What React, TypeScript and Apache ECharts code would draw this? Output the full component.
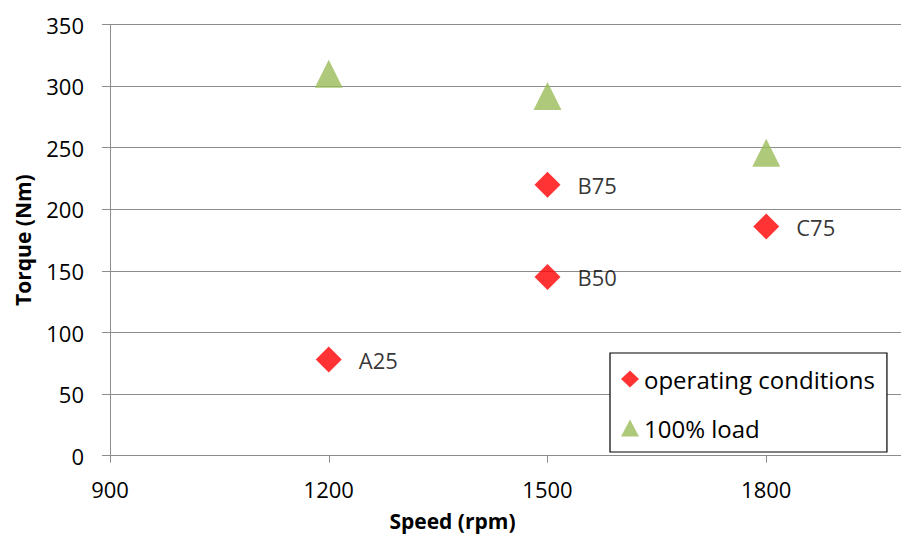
import React, { useEffect, useRef } from "react";
import * as echarts from "echarts";

const opSpeed = [1200, 1500, 1500, 1800];
const opTorque = [78, 145, 220, 186];
const opLabels = ["A25", "B50", "B75", "C75"];

const fullSpeed = [1200, 1500, 1800];
const fullTorque = [310, 292, 246];

const seriesNames = ["operating conditions", "100% load"];
const xTitle = "Speed (rpm)";
const yTitle = "Torque (Nm)";

const FONT = "'Open Sans', 'Noto Sans', sans-serif";
const GRID = "#8c8c8c";

export default function App() {
  const ref = useRef<HTMLDivElement>(null);
  useEffect(() => {
    if (!ref.current) return;
    const chart = echarts.init(ref.current, null, { renderer: "svg" });
    chart.setOption({
      animation: false,
      backgroundColor: "#ffffff",
      textStyle: { fontFamily: FONT },
      grid: {
        left: 110,
        right: 0,
        top: 24.5,
        bottom: 79.3,
        containLabel: false,
        outerBoundsMode: "none",
      },
      xAxis: {
        type: "value",
        min: 900,
        max: 2100,
        interval: 300,
        name: xTitle,
        nameLocation: "middle",
        nameGap: 55,
        nameTextStyle: {
          fontFamily: FONT,
          fontSize: 21,
          fontWeight: "bold",
          color: "#000",
          padding: [0, 190, 0, 0],
        },
        axisLine: { show: true, lineStyle: { color: GRID, width: 1 } },
        axisTick: { show: true, length: 7, lineStyle: { color: GRID } },
        axisLabel: {
          color: "#000",
          fontSize: 22,
          fontFamily: FONT,
          margin: 22,
          showMaxLabel: false,
          formatter: (v: number) => String(v),
        },
        splitLine: { show: false },
      },
      yAxis: {
        type: "value",
        min: 0,
        max: 350,
        interval: 50,
        name: yTitle,
        nameLocation: "middle",
        nameRotate: 90,
        nameGap: 77,
        nameTextStyle: {
          fontFamily: FONT,
          fontSize: 21,
          fontWeight: "bold",
          color: "#000",
        },
        axisLine: { show: true, lineStyle: { color: GRID, width: 1 } },
        axisTick: { show: true, length: 8, lineStyle: { color: GRID } },
        axisLabel: { color: "#000", fontSize: 22, fontFamily: FONT, margin: 26 },
        splitLine: { show: true, lineStyle: { color: GRID, width: 1 } },
      },
      legend: {
        orient: "vertical",
        left: 610,
        top: 353,
        padding: [14, 12, 12, 11],
        itemGap: 25,
        itemWidth: 18,
        itemHeight: 17,
        borderColor: "#000",
        borderWidth: 1.2,
        backgroundColor: "#fff",
        textStyle: { fontSize: 24, fontFamily: FONT, color: "#000" },
        data: [
          { name: seriesNames[0], icon: "diamond" },
          { name: seriesNames[1], icon: "triangle" },
        ],
      },
      series: [
        {
          name: seriesNames[0],
          type: "scatter",
          symbol: "diamond",
          symbolSize: 26,
          itemStyle: { color: "#ff0000" },
          label: {
            show: true,
            position: "right",
            distance: 17,
            formatter: "{b}",
            fontSize: 22,
            fontFamily: FONT,
            color: "#000",
          },
          data: opSpeed.map((s, i) => ({ value: [s, opTorque[i]], name: opLabels[i] })),
        },
        {
          name: seriesNames[1],
          type: "scatter",
          symbol: "triangle",
          symbolSize: 28,
          itemStyle: { color: "#9bbb59" },
          data: fullSpeed.map((s, i) => [s, fullTorque[i]]),
        },
      ],
    });
    return () => chart.dispose();
  }, []);
  return (
    <div
      style={{
        position: "fixed",
        left: 0,
        top: 0,
        width: 901,
        height: 535,
        overflow: "hidden",
        background: "#fff",
      }}
    >
      <div ref={ref} style={{ width: 985, height: 535 }} />
    </div>
  );
}
